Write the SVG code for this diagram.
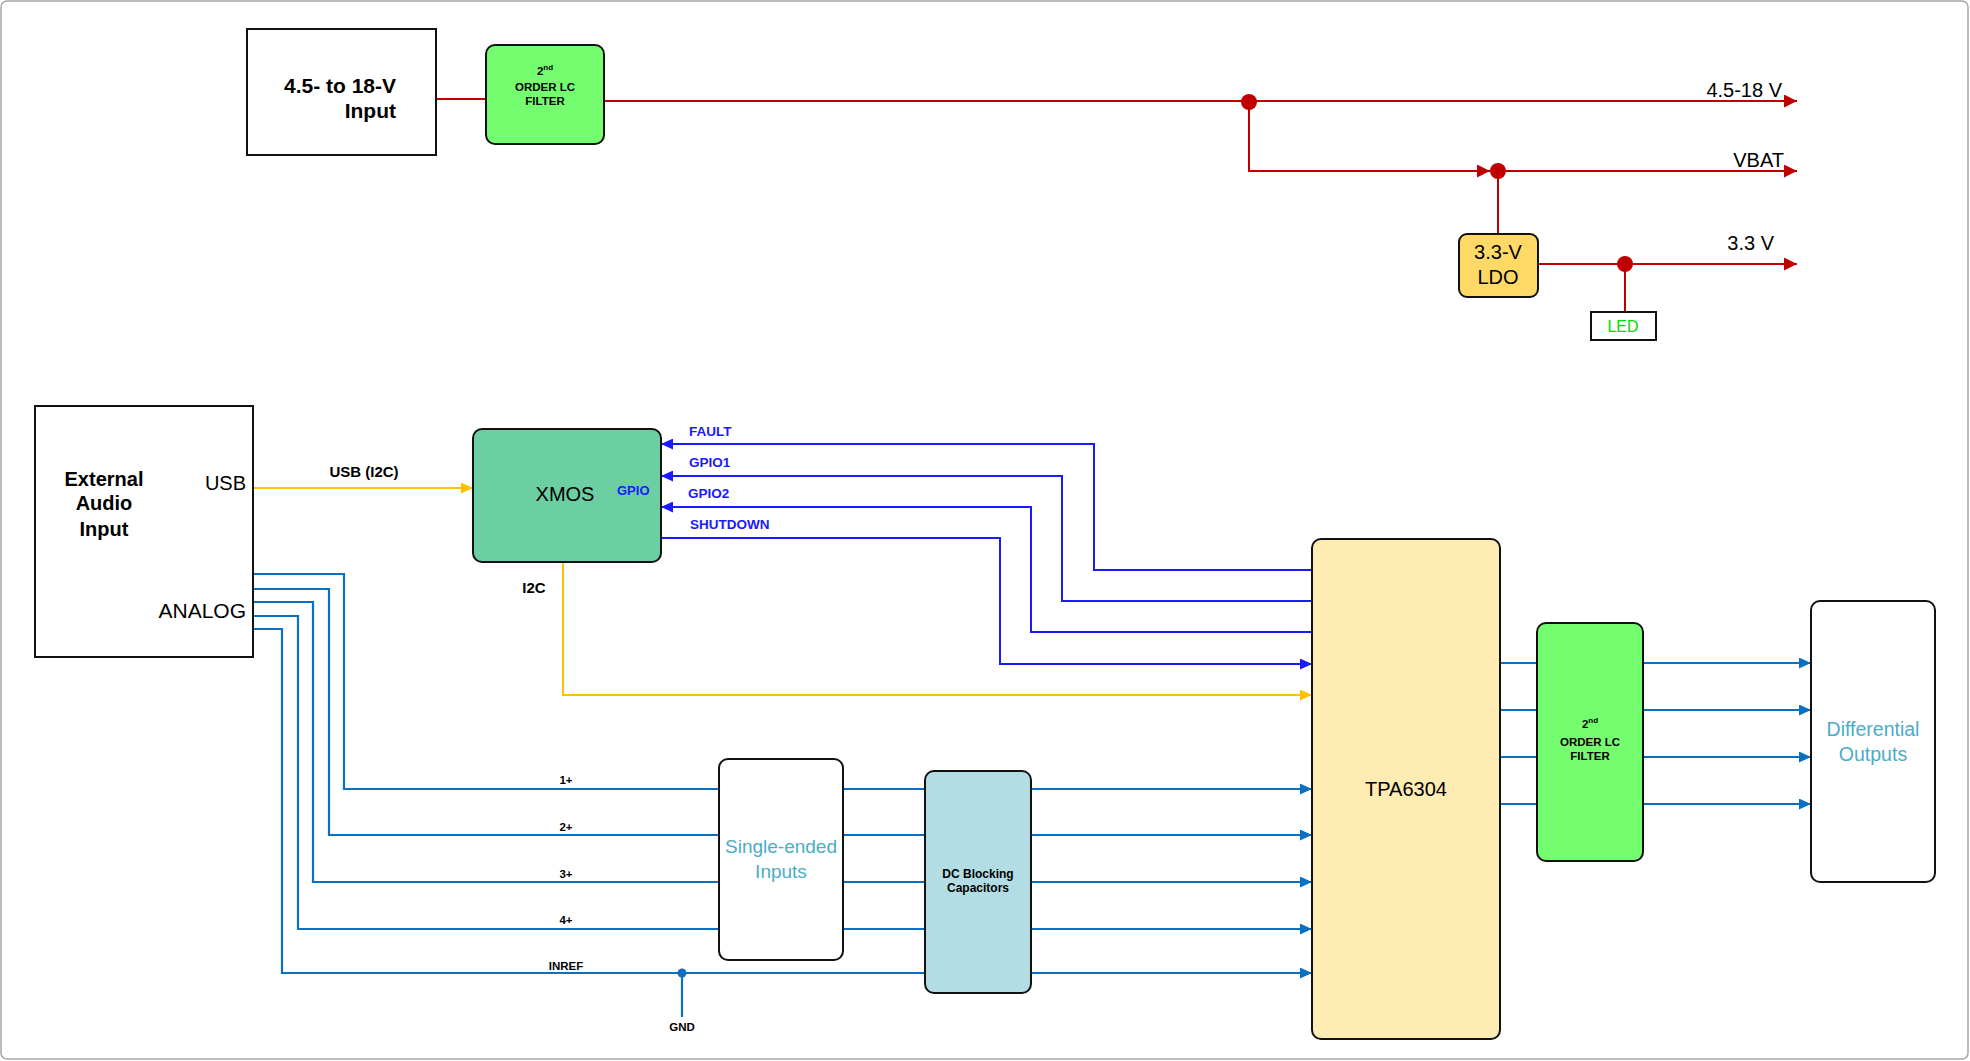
<svg xmlns="http://www.w3.org/2000/svg" width="1970" height="1061" viewBox="0 0 1970 1061">
<style>
.box{stroke:#111;stroke-width:2}
.t{font-family:"Liberation Sans",Arial,sans-serif;fill:#000}
.b{font-weight:bold}
.red{stroke:#c00000;stroke-width:2;fill:none}
.blu{stroke:#1a1aff;stroke-width:2;fill:none}
.ana{stroke:#0a70c4;stroke-width:2.2;fill:none}
.yel{stroke:#ffc000;stroke-width:2;fill:none}
.lb{fill:#4bacc6}
.gpio{fill:#1a1aff;font-weight:bold;font-size:13.5px}
.sm{font-size:11.5px;font-weight:bold}
.flt{font-size:11.5px;font-weight:bold;text-anchor:middle}
</style>
<defs>
<marker id="aR" markerUnits="userSpaceOnUse" markerWidth="14" markerHeight="13" refX="13" refY="6.5" orient="auto"><path d="M0,0 L13,6.5 L0,13 z" fill="#c00000"/></marker>
<marker id="aB" markerUnits="userSpaceOnUse" markerWidth="13" markerHeight="11" refX="12" refY="5.5" orient="auto"><path d="M0,0 L12,5.5 L0,11 z" fill="#1a1aff"/></marker>
<marker id="aA" markerUnits="userSpaceOnUse" markerWidth="13" markerHeight="11" refX="12" refY="5.5" orient="auto"><path d="M0,0 L12,5.5 L0,11 z" fill="#0a70c4"/></marker>
<marker id="aY" markerUnits="userSpaceOnUse" markerWidth="13" markerHeight="11" refX="12" refY="5.5" orient="auto"><path d="M0,0 L12,5.5 L0,11 z" fill="#ffc000"/></marker>
</defs>
<rect x="1" y="1" width="1967" height="1058" rx="6" fill="#fff" stroke="#a6a6a6" stroke-width="1.5"/>

<g id="connectors">
<!-- power -->
<path class="red" d="M436,99 H486"/>
<path class="red" d="M604,101 H1797" marker-end="url(#aR)"/>
<path class="red" d="M1249,102 V171 H1490" marker-end="url(#aR)"/>
<path class="red" d="M1498,171 H1797" marker-end="url(#aR)"/>
<path class="red" d="M1498,171 V234"/>
<path class="red" d="M1538,264 H1797" marker-end="url(#aR)"/>
<path class="red" d="M1625,264 V312"/>
<!-- usb / i2c -->
<path class="yel" d="M253,488 H473" marker-end="url(#aY)"/>
<path class="yel" d="M563,562 V695 H1312" marker-end="url(#aY)"/>
<!-- gpio -->
<path class="blu" d="M1312,570 H1094 V444 H661" marker-end="url(#aB)"/>
<path class="blu" d="M1312,601 H1062 V476 H661" marker-end="url(#aB)"/>
<path class="blu" d="M1312,632 H1031 V507 H661" marker-end="url(#aB)"/>
<path class="blu" d="M661,538 H1000 V664 H1312" marker-end="url(#aB)"/>
<!-- analog -->
<path class="ana" d="M253,574 H344 V789 H719"/>
<path class="ana" d="M253,589 H329 V835 H719"/>
<path class="ana" d="M253,602 H313 V882 H719"/>
<path class="ana" d="M253,616 H298 V929 H719"/>
<path class="ana" d="M253,629 H282 V973 H925"/>
<path class="ana" d="M843,789 H925 M843,835 H925 M843,882 H925 M843,929 H925"/>
<path class="ana" d="M1031,789 H1312" marker-end="url(#aA)"/>
<path class="ana" d="M1031,835 H1312" marker-end="url(#aA)"/>
<path class="ana" d="M1031,882 H1312" marker-end="url(#aA)"/>
<path class="ana" d="M1031,929 H1312" marker-end="url(#aA)"/>
<path class="ana" d="M1031,973 H1312" marker-end="url(#aA)"/>
<path class="ana" d="M682,973 V1017"/>
<!-- outputs -->
<path class="ana" d="M1500,663 H1537 M1500,710 H1537 M1500,757 H1537 M1500,804 H1537"/>
<path class="ana" d="M1643,663 H1811" marker-end="url(#aA)"/>
<path class="ana" d="M1643,710 H1811" marker-end="url(#aA)"/>
<path class="ana" d="M1643,757 H1811" marker-end="url(#aA)"/>
<path class="ana" d="M1643,804 H1811" marker-end="url(#aA)"/>
<!-- junctions -->
<circle cx="1249" cy="102" r="8" fill="#c00000"/>
<circle cx="1498" cy="171" r="8" fill="#c00000"/>
<circle cx="1625" cy="264" r="8" fill="#c00000"/>
<circle cx="682" cy="973" r="4.5" fill="#0a70c4"/>
<!-- connector labels -->
<text class="t" x="1782" y="97" font-size="20" text-anchor="end">4.5-18 V</text>
<text class="t" x="1784" y="167" font-size="20" text-anchor="end">VBAT</text>
<text class="t" x="1774" y="250" font-size="20" text-anchor="end">3.3 V</text>
<text class="t b" x="364" y="477" font-size="15" text-anchor="middle">USB (I2C)</text>
<text class="t b" x="534" y="593" font-size="15" text-anchor="middle">I2C</text>
<text class="t gpio" x="689" y="436">FAULT</text>
<text class="t gpio" x="689" y="467">GPIO1</text>
<text class="t gpio" x="688" y="498">GPIO2</text>
<text class="t gpio" x="690" y="529">SHUTDOWN</text>
<text class="t sm" x="566" y="784" text-anchor="middle">1+</text>
<text class="t sm" x="566" y="831" text-anchor="middle">2+</text>
<text class="t sm" x="566" y="878" text-anchor="middle">3+</text>
<text class="t sm" x="566" y="924" text-anchor="middle">4+</text>
<text class="t sm" x="566" y="970" text-anchor="middle">INREF</text>
<text class="t sm" x="682" y="1031" text-anchor="middle">GND</text>
</g>

<g id="input-supply">
<rect class="box" x="247" y="29" width="189" height="126" fill="#fff"/>
<text class="t b" x="396" y="93" font-size="21" text-anchor="end">4.5- to 18-V</text>
<text class="t b" x="396" y="118" font-size="21" text-anchor="end">Input</text>
</g>

<g id="lc-filter-1">
<rect class="box" x="486" y="45" width="118" height="99" rx="9" fill="#75fd70"/>
<text class="t flt" x="545" y="75">2<tspan font-size="8" dy="-5">nd</tspan></text>
<text class="t flt" x="545" y="91">ORDER LC</text>
<text class="t flt" x="545" y="105">FILTER</text>
</g>

<g id="ldo">
<rect class="box" x="1459" y="234" width="79" height="63" rx="8" fill="#ffd966"/>
<text class="t" x="1498" y="259" font-size="20" text-anchor="middle">3.3-V</text>
<text class="t" x="1498" y="284" font-size="20" text-anchor="middle">LDO</text>
</g>

<g id="led">
<rect class="box" x="1591" y="312" width="65" height="28" fill="#fff"/>
<text class="t" x="1623" y="332" font-size="16" text-anchor="middle" style="fill:#00dd00">LED</text>
</g>

<g id="external-audio-input">
<rect class="box" x="35" y="406" width="218" height="251" fill="#fff"/>
<text class="t b" x="104" y="486" font-size="20" text-anchor="middle">External</text>
<text class="t b" x="104" y="510" font-size="20" text-anchor="middle">Audio</text>
<text class="t b" x="104" y="536" font-size="20" text-anchor="middle">Input</text>
<text class="t" x="246" y="490" font-size="20" text-anchor="end">USB</text>
<text class="t" x="246" y="618" font-size="21" text-anchor="end">ANALOG</text>
</g>

<g id="xmos">
<rect class="box" x="473" y="429" width="188" height="133" rx="9" fill="#6ccfa4"/>
<text class="t" x="565" y="501" font-size="20" text-anchor="middle">XMOS</text>
<text class="t" x="617" y="495" font-size="13" font-weight="bold" style="fill:#1a1aff">GPIO</text>
</g>

<g id="single-ended-inputs">
<rect class="box" x="719" y="759" width="124" height="201" rx="9" fill="#fff"/>
<text class="t lb" x="781" y="853" font-size="19" text-anchor="middle">Single-ended</text>
<text class="t lb" x="781" y="878" font-size="19" text-anchor="middle">Inputs</text>
</g>

<g id="dc-blocking">
<rect class="box" x="925" y="771" width="106" height="222" rx="9" fill="#b2dde5"/>
<text class="t" x="978" y="878" font-size="12" font-weight="bold" text-anchor="middle">DC Blocking</text>
<text class="t" x="978" y="892" font-size="12" font-weight="bold" text-anchor="middle">Capacitors</text>
</g>

<g id="tpa6304">
<rect class="box" x="1312" y="539" width="188" height="500" rx="9" fill="#ffecb3"/>
<text class="t" x="1406" y="796" font-size="20" text-anchor="middle">TPA6304</text>
</g>

<g id="lc-filter-2">
<rect class="box" x="1537" y="623" width="106" height="238" rx="9" fill="#75fd70"/>
<text class="t flt" x="1590" y="728">2<tspan font-size="8" dy="-5">nd</tspan></text>
<text class="t flt" x="1590" y="746">ORDER LC</text>
<text class="t flt" x="1590" y="760">FILTER</text>
</g>

<g id="differential-outputs">
<rect class="box" x="1811" y="601" width="124" height="281" rx="9" fill="#fff"/>
<text class="t lb" x="1873" y="736" font-size="19.5" text-anchor="middle">Differential</text>
<text class="t lb" x="1873" y="761" font-size="19.5" text-anchor="middle">Outputs</text>
</g>
</svg>
